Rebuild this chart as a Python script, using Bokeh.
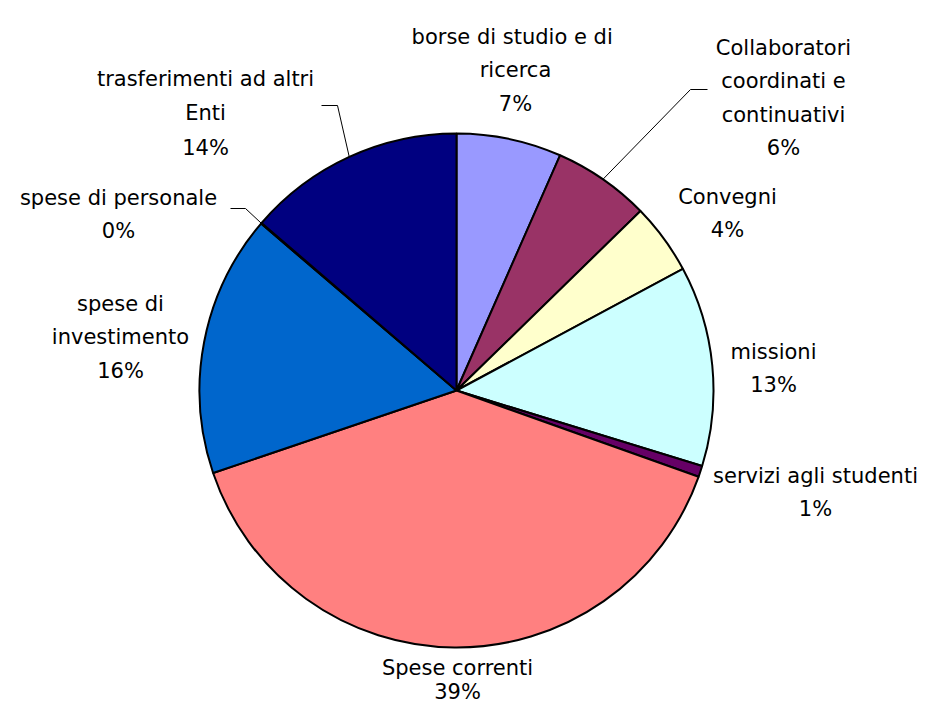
import math
from bokeh.plotting import figure
from bokeh.models import Range1d, ColumnDataSource
from bokeh.core.properties import value
from bokeh.embed import file_html
from bokeh.resources import INLINE

# ---------------- data ----------------
categories = [
    "borse di  studio e di ricerca",
    "Collaboratori coordinati e continuativi",
    "Convegni",
    "missioni",
    "servizi agli studenti",
    "Spese correnti",
    "spese di investimento",
    "spese di personale",
    "trasferimenti ad altri Enti",
]
shares = [6.6, 6.1, 4.45, 12.6, 0.7, 39.35, 16.45, 0.05, 13.7]
label_lines = [
    ["borse di  studio e di", "ricerca"],
    ["Collaboratori", "coordinati e", "continuativi"],
    ["Convegni"],
    ["missioni"],
    ["servizi agli studenti"],
    ["Spese correnti"],
    ["spese di", "investimento"],
    ["spese di personale"],
    ["trasferimenti ad altri", "Enti"],
]

# ---------------- style / layout ----------------
colors = ["#9999FF", "#993366", "#FFFFCC", "#CCFFFF", "#660066",
          "#FF8080", "#0066CC", "#CCCCFF", "#000080"]
W, H = 920, 704
CX, CY_IMG, R = 456, 390, 257
# label anchor: (center x, first baseline y, line gap) in pixel coordinates
label_pos = [(515, 36, 33.5), (783, 47, 33.5), (727, 196, 33.5),
             (773, 351, 33.5), (815, 475, 33.5), (457, 667, 24),
             (120, 303, 33.5), (118, 197, 33.5), (205, 78, 34.5)]
# leader lines: index -> (elbow, end) in pixel coordinates
leaders = {1: ((690, 89), (707, 89)),
           8: ((337, 105), (321, 105)),
           7: ((245, 208), (230, 208))}
FONT = value("DejaVu Sans")
FONT_SIZE = "21px"


def to_y(y_img):
    return H - y_img


p = figure(width=W, height=H, output_backend="svg", toolbar_location=None,
           x_range=Range1d(0, W), y_range=Range1d(0, H),
           x_axis_type=None, y_axis_type=None, min_border=0)
p.outline_line_color = None
p.grid.visible = False
p.background_fill_color = "white"
p.border_fill_color = "white"

total = sum(shares)
cy = to_y(CY_IMG)
starts, ends, mids = [], [], []
cum = 0.0
for s in shares:
    f = s / total
    a0 = math.pi / 2 - 2 * math.pi * cum
    a1 = math.pi / 2 - 2 * math.pi * (cum + f)
    starts.append(a1)
    ends.append(a0)
    mids.append(math.pi / 2 - 2 * math.pi * (cum + f / 2))
    cum += f

src = ColumnDataSource(dict(start=starts, end=ends, color=colors, cat=categories))
p.wedge(x=CX, y=cy, radius=R, start_angle="start", end_angle="end",
        direction="anticlock", fill_color="color", line_color="black",
        line_width=2, source=src)

# leader lines
for i, (elbow, end) in leaders.items():
    ax = CX + R * math.cos(mids[i])
    ay = cy + R * math.sin(mids[i])
    p.line([ax, elbow[0], end[0]], [ay, to_y(elbow[1]), to_y(end[1])],
           line_color="black", line_width=1)

# labels
tx, ty, tt = [], [], []
for i, lines in enumerate(label_lines):
    pct = f"{shares[i] / total * 100:.0f}%"
    all_lines = lines + [pct]
    x0, y0, gap = label_pos[i]
    for k, t in enumerate(all_lines):
        tx.append(x0)
        ty.append(to_y(y0 + k * gap))
        tt.append(t)

p.text(x=tx, y=ty, text=tt, text_align="center", text_baseline="alphabetic",
       text_font=FONT, text_font_size=FONT_SIZE, text_color="black")

open("out.html", "w").write(file_html(p, INLINE))
